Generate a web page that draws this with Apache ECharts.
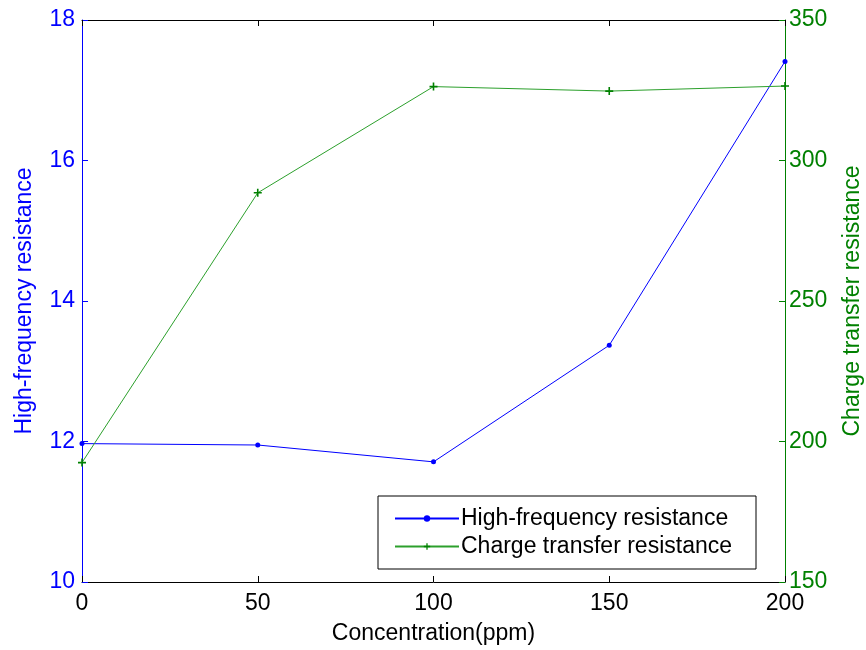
<!DOCTYPE html>
<html><head><meta charset="utf-8">
<script src="https://cdn.jsdelivr.net/npm/echarts@6/dist/echarts.min.js"></script>
<style>html,body{margin:0;padding:0;background:#fff}#c{width:866px;height:650px}</style>
</head><body><div id="c"></div>
<script>
const concentration = [0, 50, 100, 150, 200];
const highFreq = [11.97, 11.95, 11.71, 13.37, 17.41];
const chargeTransfer = [192.5, 288.5, 326.3, 324.7, 326.5];
const leftTicks = [10, 18, 2];
const rightTicks = [150, 350, 50];
const xTicks = [0, 200, 50];

const FONT = 'Liberation Sans, Arial, sans-serif';
const FS = 23;
const blue = '#0000ff', green = '#008000';
const chart = echarts.init(document.getElementById('c'));
chart.setOption({
  animation: false,
  backgroundColor: '#fff',
  textStyle: {fontFamily: FONT},
  grid: {left: 82, right: 81, top: 20, bottom: 68, containLabel: false, outerBoundsMode: 'none'},
  legend: {
    left: 378, top: 496,
    orient: 'vertical', backgroundColor: '#fff',
    borderColor: '#000', borderWidth: 1, padding: [11, 24, 11, 16],
    itemWidth: 64, itemHeight: 8, itemGap: 5,
    textStyle: {fontFamily: FONT, fontSize: FS, color: '#000', padding: [0,0,0,-3]},
    data: ['High-frequency resistance', 'Charge transfer resistance']
  },
  xAxis: [{
    type: 'value', min: xTicks[0], max: xTicks[1], interval: xTicks[2],
    name: 'Concentration(ppm)', nameLocation: 'middle', nameGap: 40,
    nameTextStyle: {fontFamily: FONT, fontSize: FS, color: '#000'},
    axisLine: {onZero: false, lineStyle: {color: '#000', width: 1}},
    axisTick: {inside: true, length: 6, lineStyle: {color: '#000'}},
    axisLabel: {fontFamily: FONT, fontSize: FS, color: '#000', margin: 10},
    splitLine: {show: false}
  }, {
    type: 'value', position: 'top', min: xTicks[0], max: xTicks[1], interval: xTicks[2],
    axisLine: {onZero: false, lineStyle: {color: '#000', width: 1}},
    axisTick: {inside: true, length: 6, lineStyle: {color: '#000'}},
    axisLabel: {show: false}, splitLine: {show: false}
  }],
  yAxis: [{
    type: 'value', position: 'left', min: leftTicks[0], max: leftTicks[1], interval: leftTicks[2],
    name: 'High-frequency resistance', nameLocation: 'middle', nameGap: 46, nameRotate: 90,
    nameTextStyle: {fontFamily: FONT, fontSize: FS, color: blue},
    axisLine: {show: true, onZero: false, lineStyle: {color: blue, width: 1}},
    axisTick: {show: true, inside: true, length: 6, lineStyle: {color: blue}},
    axisLabel: {fontFamily: FONT, fontSize: FS, color: blue, margin: 7},
    splitLine: {show: false}
  }, {
    type: 'value', position: 'right', min: rightTicks[0], max: rightTicks[1], interval: rightTicks[2],
    name: 'Charge transfer resistance', nameLocation: 'middle', nameGap: 56, nameRotate: 90,
    nameTextStyle: {fontFamily: FONT, fontSize: FS, color: green},
    axisLine: {show: true, onZero: false, lineStyle: {color: green, width: 1}},
    axisTick: {show: true, inside: true, length: 6, lineStyle: {color: green}},
    axisLabel: {fontFamily: FONT, fontSize: FS, color: green, margin: 4},
    splitLine: {show: false}
  }],
  series: [{
    name: 'High-frequency resistance', type: 'line', yAxisIndex: 0,
    data: concentration.map((c, i) => [c, highFreq[i]]),
    lineStyle: {color: blue, width: 1}, itemStyle: {color: blue},
    symbol: 'circle', symbolSize: 5, showAllSymbol: true
  }, {
    name: 'Charge transfer resistance', type: 'line', yAxisIndex: 1,
    data: concentration.map((c, i) => [c, chargeTransfer[i]]),
    lineStyle: {color: '#2ca02c', width: 1}, itemStyle: {color: green},
    symbol: 'path://M4,0 L6,0 L6,4 L10,4 L10,6 L6,6 L6,10 L4,10 L4,6 L0,6 L0,4 L4,4 Z', symbolSize: 8
  }]
});
</script></body></html>
